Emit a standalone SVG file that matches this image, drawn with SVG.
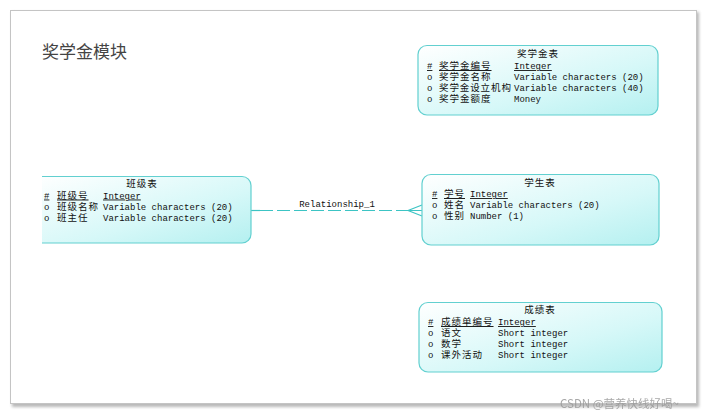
<svg xmlns="http://www.w3.org/2000/svg" width="707" height="416" viewBox="0 0 707 416">
<style>
.box{stroke:#62d0d0;stroke-width:1.2;fill:url(#g)}
.m{font-family:"Liberation Mono",monospace;font-size:9px;fill:#111}
.c{font-family:"Liberation Serif","Noto Sans CJK SC","Noto Sans CJK JP",sans-serif;font-size:9.5px;letter-spacing:1px}
.h{text-anchor:middle}
.u{text-decoration:underline}
.rel{stroke:#3cc4c4;stroke-width:1.2;fill:none}
</style>
<defs>
<linearGradient id="g" x1="0" y1="0" x2="1" y2="1">
<stop offset="0" stop-color="#ffffff"/>
<stop offset="0.6" stop-color="#d6f8f8"/>
<stop offset="1" stop-color="#b4f0f0"/>
</linearGradient>
<filter id="sh" x="-5%" y="-5%" width="110%" height="110%">
<feGaussianBlur stdDeviation="1.5"/>
</filter>
<clipPath id="clipL"><rect x="42" y="0" width="665" height="416"/></clipPath>
</defs>
<rect width="707" height="416" fill="#ffffff"/>
<rect x="12" y="12" width="687" height="395" fill="#b8b8b8" filter="url(#sh)"/>
<rect x="10.5" y="10.5" width="686" height="393" fill="#ffffff" stroke="#c4c4c4" stroke-width="1"/>
<text x="42" y="58" style="font-family:'Noto Sans CJK SC',sans-serif;font-size:17px;fill:#444">奖学金模块</text>

<g id="connectors">
<line class="rel" x1="251" y1="210.5" x2="260" y2="210.5"/>
<line class="rel" x1="260" y1="210.5" x2="408" y2="210.5" stroke-dasharray="13,4"/>
<path class="rel" d="M408,210.5 L422,205 M408,210.5 L422,210.5 M408,210.5 L422,216"/>
<text class="m h" x="337" y="206.5">Relationship_1</text>
</g>

<g id="scholarship">
<rect class="box" x="418" y="45.5" width="240" height="69.5" rx="9"/>
<text class="m"><tspan class="c h" x="538" y="57">奖学金表</tspan><tspan class="u" x="427" y="69">#</tspan><tspan class="c u" x="439" y="69">奖学金编号</tspan><tspan class="u" x="514" y="69">Integer</tspan><tspan x="427" y="80">o</tspan><tspan class="c" x="439" y="80">奖学金名称</tspan><tspan x="514" y="80">Variable characters (20)</tspan><tspan x="427" y="91">o</tspan><tspan class="c" x="439" y="91" style="letter-spacing:0.9px">奖学金设立机构</tspan><tspan x="514" y="91">Variable characters (40)</tspan><tspan x="427" y="102">o</tspan><tspan class="c" x="439" y="102">奖学金额度</tspan><tspan x="514" y="102">Money</tspan></text>
</g>

<g id="class">
<rect class="box" x="33" y="176.5" width="218" height="66.5" rx="9" clip-path="url(#clipL)"/>
<text class="m"><tspan class="c h" x="142" y="187">班级表</tspan><tspan class="u" x="44" y="198.5">#</tspan><tspan class="c u" x="57" y="198.5">班级号</tspan><tspan class="u" x="103" y="198.5">Integer</tspan><tspan x="44" y="209.5">o</tspan><tspan class="c" x="57" y="209.5">班级名称</tspan><tspan x="103" y="209.5">Variable characters (20)</tspan><tspan x="44" y="220.5">o</tspan><tspan class="c" x="57" y="220.5">班主任</tspan><tspan x="103" y="220.5">Variable characters (20)</tspan></text>
</g>

<g id="student">
<rect class="box" x="422" y="174.5" width="237" height="70.5" rx="9"/>
<text class="m"><tspan class="c h" x="540" y="185.5">学生表</tspan><tspan class="u" x="432" y="197">#</tspan><tspan class="c u" x="444" y="197">学号</tspan><tspan class="u" x="470" y="197">Integer</tspan><tspan x="432" y="208">o</tspan><tspan class="c" x="444" y="208">姓名</tspan><tspan x="470" y="208">Variable characters (20)</tspan><tspan x="432" y="219">o</tspan><tspan class="c" x="444" y="219">性别</tspan><tspan x="470" y="219">Number (1)</tspan></text>
</g>

<g id="score">
<rect class="box" x="419" y="302.5" width="243" height="69.5" rx="9"/>
<text class="m"><tspan class="c h" x="540" y="312.5">成绩表</tspan><tspan class="u" x="428" y="325">#</tspan><tspan class="c u" x="441" y="325">成绩单编号</tspan><tspan class="u" x="498" y="325">Integer</tspan><tspan x="428" y="336">o</tspan><tspan class="c" x="441" y="336">语文</tspan><tspan x="498" y="336">Short integer</tspan><tspan x="428" y="347">o</tspan><tspan class="c" x="441" y="347">数学</tspan><tspan x="498" y="347">Short integer</tspan><tspan x="428" y="358">o</tspan><tspan class="c" x="441" y="358">课外活动</tspan><tspan x="498" y="358">Short integer</tspan></text>
</g>

<text x="560" y="407.5" style="font-family:'Noto Sans CJK SC',sans-serif;font-size:11.5px;fill:#999;opacity:0.85">CSDN @营养快线好喝~</text>
</svg>
